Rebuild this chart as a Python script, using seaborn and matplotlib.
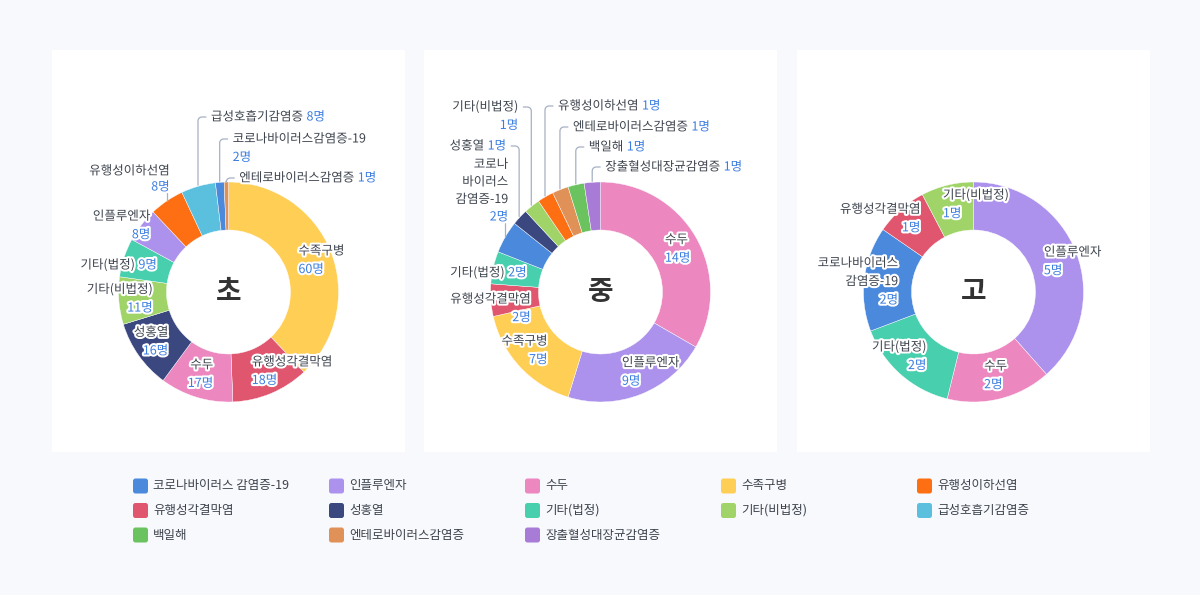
import numpy as np
import matplotlib
matplotlib.use("Agg")
import matplotlib.pyplot as plt
import matplotlib.patheffects as pe
from matplotlib.patches import Rectangle, FancyBboxPatch
import seaborn as sns

# === Data ===
legend_names = ["코로나바이러스 감염증-19", "인플루엔자", "수두", "수족구병", "유행성이하선염",
                "유행성각결막염", "성홍열", "기타(법정)", "기타(비법정)", "급성호흡기감염증",
                "백일해", "엔테로바이러스감염증", "장출혈성대장균감염증"]
legend_colors = ["#4a89dc", "#ac92ec", "#ec87c0", "#ffce54", "#fd6f12",
                 "#e0566f", "#3b4880", "#48cfad", "#a0d468", "#5bc0de",
                 "#6bc35f", "#e09158", "#a87bd6"]

elem_names = ["수족구병", "유행성각결막염", "수두", "성홍열", "기타(비법정)", "기타(법정)",
              "인플루엔자", "유행성이하선염", "급성호흡기감염증", "코로나바이러스 감염증-19",
              "엔테로바이러스감염증"]
elem_counts = [60, 18, 17, 16, 11, 9, 8, 8, 8, 2, 1]

mid_names = ["수두", "인플루엔자", "수족구병", "유행성각결막염", "기타(법정)",
             "코로나바이러스 감염증-19", "성홍열", "기타(비법정)", "유행성이하선염",
             "엔테로바이러스감염증", "백일해", "장출혈성대장균감염증"]
mid_counts = [14, 9, 7, 2, 2, 2, 1, 1, 1, 1, 1, 1]

high_names = ["인플루엔자", "수두", "기타(법정)", "코로나바이러스 감염증-19",
              "유행성각결막염", "기타(비법정)"]
high_counts = [5, 2, 2, 2, 1, 1]

# === Label layout (style per slice, pixel nudges) ===
elem_layout = {
    "기타(법정)": ("in1", {}),
    "인플루엔자": ("in", {"dx": -20, "dy": -14}),
    "유행성이하선염": ("up", {"gap": 14, "step": 16}),
    "급성호흡기감염증": ("side", {"y": 117, "one": True, "d": 1}),
    "코로나바이러스 감염증-19": ("side", {"y": 139, "d": 1, "text": "코로나바이러스감염증-19"}),
    "엔테로바이러스감염증": ("side", {"y": 178, "one": True, "d": 1}),
}
mid_layout = {
    "유행성각결막염": ("in", {"dx": 6, "dy": 10}),
    "기타(법정)": ("in1", {}),
    "코로나바이러스 감염증-19": ("up", {"gap": 20, "step": 17.5,
                                     "text": "코로나\n바이러스\n감염증-19"}),
    "성홍열": ("side", {"y": 146, "one": True, "d": -1}),
    "기타(비법정)": ("side", {"y": 107, "d": -1}),
    "유행성이하선염": ("side", {"y": 106, "one": True, "d": 1}),
    "엔테로바이러스감염증": ("side", {"y": 127, "one": True, "d": 1}),
    "백일해": ("side", {"y": 147, "one": True, "d": 1}),
    "장출혈성대장균감염증": ("side", {"y": 167, "one": True, "d": 1}),
}
high_layout = {
    "코로나바이러스 감염증-19": ("in", {"text": "코로나바이러스\n감염증-19"}),
    "유행성각결막염": ("in", {"dx": -6, "dy": -9}),
    "기타(비법정)": ("in", {"ha": "left", "dy": -4}),
}

charts = [
    ("초", elem_names, elem_counts, 52, elem_layout),
    ("중", mid_names, mid_counts, 424, mid_layout),
    ("고", high_names, high_counts, 797, high_layout),
]

color_map = dict(zip(legend_names, legend_colors))

# === Style ===
sns.set_style("white")
plt.rcParams["font.family"] = ["Noto Sans CJK KR", "DejaVu Sans"]

BG = "#f8f9fd"
NAME_C = "#3d434d"
VAL_C = "#3b7de0"
LINE_C = "#a6b0c3"
FS = 9
LINE = 18.5
GAP = 3.5
R_OUT, R_W, R_LAB = 110, 48, 86
CY = 292

W, H = 1200, 595
fig = plt.figure(figsize=(12, 5.95), dpi=100)
fig.patch.set_facecolor(BG)
ax = fig.add_axes([0, 0, 1, 1])
ax.set_facecolor(BG)
renderer = fig.canvas.get_renderer()
halo = [pe.withStroke(linewidth=3, foreground="white")]


def Y(y):
    return H - y


def draw_line(x, y, segs, ha):
    arts = [ax.text(0, Y(y), t, color=c, fontsize=FS, ha="left", va="center",
                    path_effects=halo, zorder=6) for t, c in segs]
    widths = [a.get_window_extent(renderer).width for a in arts]
    total = sum(widths) + GAP * (len(arts) - 1)
    start = x if ha == "left" else x - total
    for a, w in zip(arts, widths):
        a.set_x(start)
        start += w + GAP


def build_lines(text, value, one):
    parts = text.split("\n")
    lines = [[(p, NAME_C)] for p in parts]
    if one:
        lines[-1].append((f"{value}명", VAL_C))
    else:
        lines.append([(f"{value}명", VAL_C)])
    return lines


def leader(xo, yo, ly, d):
    rad = 4
    t = np.linspace(0, np.pi / 2, 12)
    xs = [xo] + list(xo + d * rad - d * rad * np.cos(t)) + [xo + d * 8]
    ys = [yo] + list(ly + rad - rad * np.sin(t)) + [ly]
    ax.plot(xs, [Y(v) for v in ys], color=LINE_C, lw=0.9, zorder=4,
            solid_capstyle="round")


# === Panels and donuts ===
for title, names, counts, x0, layout in charts:
    ax.add_patch(Rectangle((x0, Y(452)), 353, 402, facecolor="white",
                           edgecolor="none", zorder=0))
    cx = x0 + 176.5
    ax.pie(counts, colors=[color_map[n] for n in names], startangle=90,
           counterclock=False, center=(cx, Y(CY)), radius=R_OUT,
           wedgeprops=dict(width=R_W, edgecolor="white", linewidth=0.3))
    ax.text(cx, Y(CY), title, fontsize=20, fontweight="bold", color="#333333",
            ha="center", va="center", zorder=6)

    total = sum(counts)
    cum = np.cumsum([0] + counts)
    for i, (name, v) in enumerate(zip(names, counts)):
        theta = np.deg2rad((cum[i] + v / 2) / total * 360)
        s, c = np.sin(theta), np.cos(theta)
        style, opt = layout.get(name, ("in", {}))
        text = opt.get("text", name)
        if style in ("in", "in1"):
            lines = build_lines(text, v, style == "in1")
            ax_x = cx + R_LAB * s
            ax_y = CY - R_LAB * c
            ha = opt.get("ha", "left" if s > 0 else "right")
            x = ax_x + (-10 if ha == "left" else 10) + opt.get("dx", 0)
            y0 = ax_y - (len(lines) - 1) * LINE / 2 + opt.get("dy", 0)
            for k, ln in enumerate(lines):
                draw_line(x, y0 + k * LINE, ln, ha)
        elif style == "up":
            xo, yo = cx + R_OUT * s, CY - R_OUT * c
            ax.plot([xo, xo], [Y(yo), Y(yo - opt["gap"] + 6)], color=LINE_C,
                    lw=0.9, zorder=4)
            lines = build_lines(text, v, False)
            ylast = yo - opt["gap"]
            for k, ln in enumerate(lines):
                draw_line(xo + 3, ylast - (len(lines) - 1 - k) * opt["step"], ln, "right")
        else:
            xo, yo = cx + (R_OUT + 1) * s, CY - (R_OUT + 1) * c
            d = opt["d"]
            ly = opt["y"]
            leader(xo, yo, ly, d)
            lines = build_lines(text, v, opt.get("one", False))
            ha = "left" if d > 0 else "right"
            for k, ln in enumerate(lines):
                draw_line(xo + d * 13, ly + k * LINE, ln, ha)

# === Legend ===
for i, (name, col) in enumerate(zip(legend_names, legend_colors)):
    lx = 133 + (i % 5) * 196
    ly = 486 + (i // 5) * 24.5
    ax.add_patch(FancyBboxPatch((lx + 1.5, Y(ly) - 6), 12, 12,
                                boxstyle="round,pad=1.5,rounding_size=2.5",
                                facecolor=col, edgecolor="none", zorder=3))
    ax.text(lx + 20, Y(ly), name, fontsize=FS, color=NAME_C, ha="left",
            va="center", zorder=3)

ax.set_xlim(0, W)
ax.set_ylim(0, H)
ax.set_aspect("equal")
ax.axis("off")

fig.savefig("out.png", dpi=100, facecolor=BG)
plt.close(fig)
